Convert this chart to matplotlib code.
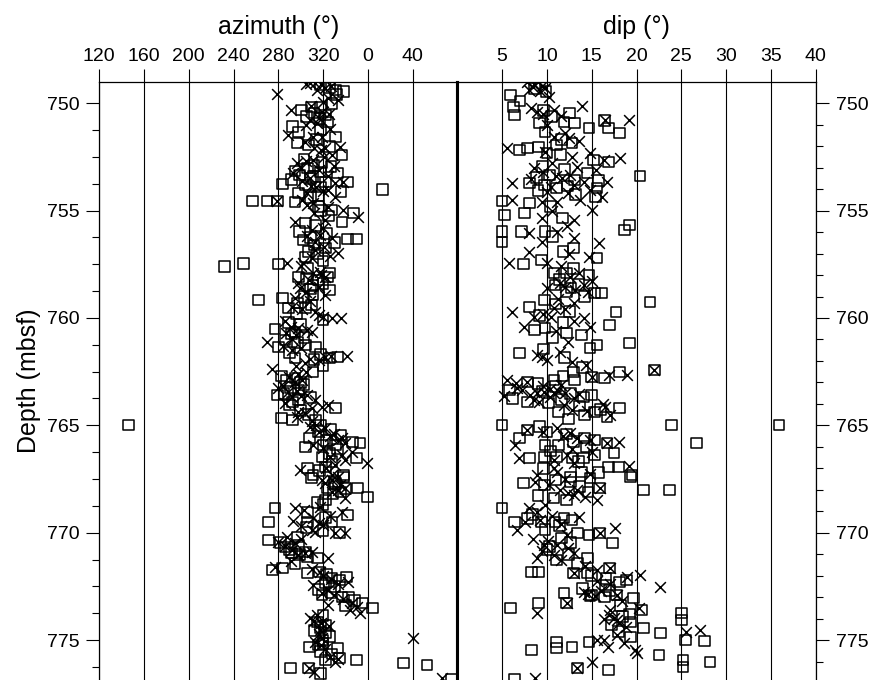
import numpy as np
import matplotlib
matplotlib.use("Agg")
import matplotlib.pyplot as plt
from matplotlib.ticker import MultipleLocator, FixedLocator

plt.rcParams['font.family'] = ['Liberation Sans', 'DejaVu Sans']

# ---------------- data ----------------
# azimuth panel, squares
az_sq_depth = [749.38, 749.47, 750.31, 750.17, 750.55, 750.87, 751.10, 751.34, 751.57, 751.85, 751.94, 752.41,
               753.01, 753.34, 753.81, 753.67, 753.67, 754.18, 754.60, 753.76, 754.00, 754.55, 754.55, 754.55,
               754.97, 755.11, 755.53, 755.58, 755.99, 756.37, 756.74, 756.32, 756.32, 757.16, 757.90, 758.09,
               757.49, 757.62, 757.48, 758.23, 758.09, 758.70, 758.93, 759.07, 759.16, 759.54, 759.54, 760.09,
               760.51, 760.65, 761.02, 761.35, 761.26, 761.35, 761.86, 761.86, 761.82, 762.52, 762.79, 763.59,
               763.35, 764.19, 763.91, 764.66, 764.75, 764.75, 765.59, 764.98, 766.01, 765.92, 765.78, 765.82,
               765.92, 766.47, 766.52, 766.99, 767.31, 766.94, 767.31, 767.45, 767.41, 767.92, 767.92, 768.34,
               768.48, 768.70, 768.85, 769.50, 769.50, 769.50, 769.18, 770.00, 770.34, 770.67, 770.95, 770.90,
               771.18, 771.74, 771.64, 771.88, 771.83, 772.34, 772.11, 772.90, 772.06, 772.99, 773.27, 773.51,
               774.16, 774.67, 775.32, 775.23, 775.84, 775.37, 775.93, 775.93, 776.30, 776.30, 776.07, 776.16,
               776.81,
               750.70, 752.90, 753.20, 753.50, 754.30, 755.00, 756.60, 757.00, 758.50, 759.30, 760.30, 761.60,
               762.90, 763.10, 763.70, 764.30, 765.30, 766.30, 767.60, 768.10, 769.90, 770.60, 771.00, 772.50,
               773.00, 774.40, 775.00,
               749.15, 749.25, 749.60, 750.00, 750.20, 750.45, 750.60, 751.25, 751.70, 752.00, 752.60, 752.75,
               752.95, 753.15, 753.25, 753.40, 753.55, 753.90, 754.10, 754.40, 754.80, 755.25, 755.70, 756.05,
               756.25, 756.50, 756.90, 757.35, 757.70, 758.15, 758.40, 758.65, 759.00, 759.40, 759.80, 760.20,
               760.75, 760.90, 761.15, 761.70, 761.95, 762.20, 762.70, 763.00, 763.25, 763.50, 763.80, 764.05,
               764.50, 765.00, 765.20, 765.45, 765.70, 766.10, 766.70, 767.10, 767.70, 767.95, 768.20, 768.60,
               769.05, 769.30, 769.75, 770.20, 770.45, 770.80, 771.10, 771.45, 771.95, 772.20, 772.65, 772.80,
               773.15, 773.40, 773.85, 774.30, 774.55, 774.85, 775.15, 775.55, 775.65, 776.55]
az_sq_value = [331, 338, 301, 310, 322, 324, 293, 298, 331, 297, 307, 337,
               306, 299, 304, 322, 342, 298, 295, 284, 13, 257, 270, 279,
               328, 347, 337, 304, 299, 302, 322, 342, 350, 304, 326, 298,
               280, 232, 249, 316, 324, 326, 311, 284, 262, 289, 304, 320,
               277, 295, 286, 280, 304, 313, 295, 326, 333, 311, 295, 279,
               298, 331, 293, 283, 293, 313, 308, 146, 304, 320, 346, 353,
               331, 319, 350, 306, 311, 322, 338, 310, 338, 324, 351, 0,
               322, 320, 277, 271, 306, 328, 342, 335, 271, 286, 292, 304,
               315, 275, 284, 306, 317, 322, 328, 319, 341, 337, 355, 4,
               315, 322, 308, 316, 335, 333, 322, 350, 291, 307, 32, 53,
               75,
               317, 312, 318, 309, 316, 318, 312, 315, 311, 297, 300, 290,
               287, 303, 309, 300, 316, 326, 330, 336, 320, 298, 299, 330,
               343, 318, 320,
               318, 326, 332, 328, 318, 312, 305, 318, 314, 326, 303, 319,
               327, 295, 333, 311, 292, 318, 336, 309, 316, 325, 313, 323,
               309, 330, 307, 320, 306, 305, 320, 309, 303, 310, 296, 289,
               292, 303, 297, 318, 312, 320, 283, 300, 291, 285, 298, 290,
               307, 318, 327, 336, 323, 333, 328, 317, 331, 340, 329, 315,
               306, 322, 305, 297, 282, 290, 306, 295, 323, 335, 316, 327,
               348, 340, 320, 322, 312, 326, 320, 318, 328, 318]

# azimuth panel, crosses
az_x_depth = [749.05, 749.05, 749.10, 749.29, 749.57, 749.75, 749.85, 750.31, 750.41, 750.68, 750.92, 751.48,
              751.57, 751.57, 752.08, 752.04, 752.41, 752.78, 752.64, 753.48, 753.71, 753.67, 754.04, 754.50,
              754.55, 754.64, 754.83, 754.97, 755.30, 755.53, 756.13, 756.27, 756.46, 756.97, 756.83, 757.44,
              757.90, 757.86, 757.44, 758.23, 758.93, 758.60, 759.07, 759.49, 759.72, 759.95, 760.00, 760.00,
              760.42, 760.56, 760.65, 761.12, 761.49, 762.10, 761.96, 761.82, 761.77, 762.38, 762.89, 763.26,
              763.45, 763.59, 763.82, 764.15, 764.05, 764.38, 764.43, 765.08, 765.31, 765.12, 765.92, 765.68,
              765.60, 766.47, 766.24, 766.75, 766.85, 767.08, 767.31, 767.55, 767.55, 768.01, 767.80, 768.80,
              768.85, 769.46, 769.32, 769.87, 769.64, 769.04, 770.00, 770.00, 770.43, 770.48, 771.04, 770.90,
              771.18, 771.60, 771.83, 772.44, 772.67, 772.30, 773.37, 773.27, 773.60, 773.74, 773.97, 774.53,
              774.90, 775.09, 774.90, 775.79, 776.30, 776.77,
              751.00, 752.20, 753.00, 753.90, 754.20, 755.80, 757.20, 758.00, 758.80, 760.80, 761.30, 762.60,
              763.00, 763.70, 764.80, 765.50, 766.60, 767.90, 769.70, 770.20, 770.80, 772.00, 772.90, 774.20,
              775.40, 776.00,
              749.12, 749.20, 749.40, 749.95, 750.15, 750.50, 750.80, 751.20, 751.80, 752.10, 752.50, 752.70,
              752.90, 753.10, 753.25, 753.40, 753.60, 753.85, 754.10, 754.35, 754.75, 755.10, 755.45, 755.90,
              756.20, 756.70, 757.10, 757.60, 758.10, 758.35, 758.55, 759.20, 759.60, 759.85, 760.15, 760.45,
              760.70, 761.00, 761.40, 761.75, 761.90, 762.25, 762.50, 762.75, 763.15, 763.40, 763.65, 763.95,
              764.20, 764.60, 765.00, 765.40, 765.80, 766.05, 766.40, 767.00, 767.40, 767.70, 768.10, 768.40,
              768.95, 769.20, 769.55, 769.95, 770.30, 770.60, 770.95, 771.30, 771.70, 772.15, 772.40, 772.80,
              773.10, 773.45, 773.85, 774.10, 774.35, 774.70, 775.25, 775.90, 776.50]
az_x_value = [308, 313, 318, 322, 279, 324, 333, 291, 319, 316, 315, 289,
              311, 319, 322, 335, 328, 297, 311, 308, 331, 338, 324, 301,
              279, 311, 324, 338, 351, 295, 317, 328, 313, 333, 313, 302,
              311, 317, 288, 307, 322, 299, 295, 292, 313, 320, 328, 336,
              291, 306, 310, 270, 292, 304, 316, 322, 341, 274, 301, 280,
              289, 306, 313, 319, 324, 298, 304, 308, 316, 322, 311, 333,
              337, 326, 346, 359, 331, 299, 328, 319, 328, 333, 335, 317,
              295, 293, 311, 310, 320, 337, 331, 340, 280, 295, 298, 310,
              324, 277, 317, 311, 324, 342, 324, 346, 344, 353, 308, 317,
              319, 313, 40, 326, 307, 66,
              305, 318, 300, 314, 306, 320, 310, 318, 305, 296, 284, 298,
              295, 292, 310, 326, 340, 340, 300, 288, 292, 320, 330, 318,
              322, 331,
              305, 327, 315, 320, 309, 325, 308, 326, 304, 312, 321, 305,
              330, 316, 293, 324, 301, 309, 320, 331, 306, 312, 322, 310,
              306, 321, 326, 300, 322, 298, 316, 308, 301, 316, 286, 298,
              287, 292, 300, 327, 308, 296, 305, 290, 284, 297, 300, 286,
              310, 297, 314, 330, 340, 320, 337, 323, 333, 322, 328, 340,
              303, 326, 316, 313, 300, 286, 304, 291, 310, 327, 333, 319,
              338, 350, 315, 312, 325, 316, 318, 333, 312]

# dip panel, squares
dip_sq_depth = [749.61, 750.17, 750.55, 750.45, 750.87, 750.92, 751.15, 750.82, 751.15, 751.38, 750.92, 751.34,
                751.94, 752.18, 752.08, 752.04, 752.32, 752.64, 752.74, 753.39, 753.71, 753.81, 753.95, 753.95,
                753.57, 753.34, 754.55, 754.64, 754.36, 755.20, 755.11, 755.34, 755.99, 756.46, 755.99, 755.99,
                756.74, 757.21, 755.90, 755.67, 757.49, 757.30, 757.90, 757.90, 758.00, 758.79, 758.84, 758.84,
                758.46, 759.26, 759.16, 759.49, 760.33, 759.72, 760.56, 760.47, 760.70, 760.79, 761.16, 761.63,
                761.40, 761.26, 762.42, 762.52, 762.75, 762.79, 762.52, 762.89, 762.89, 763.35, 762.98, 763.68,
                763.59, 763.91, 763.40, 763.96, 764.38, 764.52, 764.38, 764.61, 764.19, 764.98, 764.98, 764.98,
                765.22, 765.59, 765.31, 765.59, 765.68, 765.82, 765.92, 765.92, 766.52, 766.47, 766.47, 766.52,
                766.52, 766.38, 766.29, 766.94, 766.94, 767.31, 767.17, 767.41, 765.82, 767.69, 767.78, 767.64,
                767.45, 767.92, 767.41, 768.01, 768.01, 768.38, 768.48, 768.85, 769.50, 769.50, 769.50, 769.32,
                769.41, 770.01, 770.11, 770.48, 770.65, 771.18, 771.83, 771.83, 771.27, 770.01, 771.88, 771.88,
                772.44, 771.64, 772.30, 772.20, 772.81, 772.95, 772.90, 772.90, 773.04, 773.51, 773.27, 773.27,
                773.60, 773.79, 774.16, 774.44, 774.67, 774.86, 775.70, 775.09, 775.09, 775.37, 775.32, 775.46,
                776.30, 776.39, 776.81, 773.74, 774.07, 775.00, 775.04, 775.93, 776.25, 776.02,
                749.30, 749.45, 749.90, 750.35, 750.60, 751.70, 751.85, 752.40, 752.95, 753.10, 753.25, 753.45,
                753.60, 753.85, 754.05, 754.25, 754.80, 756.20, 756.90, 757.70, 758.20, 758.45, 758.60, 759.00,
                759.35, 759.70, 759.90, 760.20, 760.90, 761.45, 761.85, 762.30, 762.70, 763.05, 763.20, 763.50,
                763.75, 763.80, 764.10, 764.25, 764.70, 765.05, 765.40, 765.75, 766.00, 766.20, 766.70, 767.00,
                767.20, 767.55, 767.85, 768.10, 768.25, 769.15, 769.35, 769.65, 769.85, 770.25, 770.45, 770.80,
                771.00, 771.45, 772.00, 772.15, 772.60, 772.70, 773.00, 773.40, 773.90, 774.30, 774.60]
dip_sq_value = [5.9, 6.3, 6.4, 12.5, 11.9, 13.1, 14.7, 16.4, 16.9, 18.1, 9.2, 9.8,
                11.1, 6.9, 7.8, 9.1, 10.0, 15.2, 16.9, 20.4, 8.1, 9.7, 11.1, 15.6,
                13.1, 10.3, 5.0, 8.1, 15.4, 5.3, 7.5, 11.7, 5.0, 5.0, 7.2, 9.8,
                13.0, 15.6, 18.7, 19.2, 7.4, 9.4, 10.8, 12.2, 14.7, 12.2, 15.3, 16.1,
                10.9, 21.5, 9.7, 8.1, 17.0, 17.7, 8.6, 9.8, 12.2, 13.9, 19.2, 6.9,
                14.8, 15.6, 22.0, 13.0, 15.0, 16.4, 18.1, 10.8, 13.1, 5.8, 7.8, 14.1,
                15.0, 7.8, 9.5, 10.2, 11.3, 14.2, 15.3, 16.7, 18.1, 5.0, 23.9, 35.9,
                7.8, 6.9, 10.0, 14.2, 15.3, 16.7, 11.3, 9.8, 8.1, 9.7, 11.1, 12.8,
                14.1, 15.3, 17.5, 16.9, 18.0, 19.5, 13.9, 12.6, 26.7, 7.4, 9.7, 12.6,
                14.8, 15.9, 19.3, 20.8, 23.7, 10.8, 12.2, 5.0, 6.4, 9.4, 10.9, 11.9,
                12.8, 15.9, 14.7, 17.3, 10.3, 14.5, 9.1, 8.3, 11.1, 13.4, 13.0, 14.5,
                16.5, 17.0, 18.1, 18.9, 11.9, 14.8, 15.0, 17.8, 19.7, 5.9, 9.1, 12.2,
                20.6, 19.2, 19.3, 20.8, 22.7, 19.3, 22.5, 14.7, 11.1, 11.1, 12.8, 8.3,
                13.4, 16.9, 6.4, 25.0, 25.0, 25.5, 27.6, 25.2, 25.2, 28.2,
                8.6, 9.9, 7.0, 9.6, 10.5, 11.6, 12.8, 11.5, 9.5, 12.0, 14.5, 8.8,
                15.8, 12.3, 9.0, 13.2, 10.4, 10.6, 11.8, 13.0, 11.4, 13.5, 12.7, 14.2,
                11.0, 12.5, 9.2, 11.8, 10.6, 9.6, 12.0, 14.0, 11.8, 9.0, 11.0, 12.6,
                6.2, 11.6, 13.6, 16.0, 12.4, 9.2, 12.2, 13.0, 14.4, 10.4, 13.5, 9.6,
                15.8, 11.0, 13.6, 14.6, 9.0, 8.4, 7.8, 11.4, 9.8, 11.6, 12.6, 10.0,
                12.4, 13.4, 15.0, 16.6, 14.0, 17.0, 16.4, 18.2, 18.4, 17.2, 18.0]

# dip panel, crosses
dip_x_depth = [749.01, 749.38, 749.29, 749.20, 750.41, 750.31, 750.13, 750.78, 750.78, 751.57, 751.62, 752.08,
               752.50, 752.32, 752.64, 752.55, 753.01, 753.71, 753.34, 753.67, 753.67, 753.48, 754.04, 754.13,
               754.50, 754.60, 754.60, 754.50, 754.97, 755.34, 755.43, 756.04, 755.99, 756.27, 756.51, 757.16,
               757.44, 756.93, 757.44, 757.90, 758.60, 758.46, 758.37, 758.70, 759.72, 759.95, 760.42, 759.54,
               759.95, 760.00, 760.42, 761.72, 761.96, 761.58, 762.05, 762.42, 762.75, 762.65, 762.65, 763.26,
               762.98, 763.49, 763.45, 763.49, 763.49, 763.73, 763.91, 763.35, 763.59, 763.70, 763.10, 764.29,
               764.15, 764.02, 765.22, 765.92, 765.12, 765.36, 765.59, 765.82, 765.78, 766.52, 766.38, 766.89,
               766.99, 767.17, 767.27, 767.31, 767.64, 768.01, 768.01, 767.92, 768.24, 768.48, 768.85, 769.04,
               768.71, 769.50, 769.87, 769.27, 769.78, 770.01, 770.57, 770.40, 770.57, 770.95, 771.04, 771.18,
               770.11, 771.88, 772.25, 771.64, 772.06, 771.97, 772.53, 772.76, 772.85, 772.90, 773.74, 773.27,
               773.51, 773.83, 774.07, 773.95, 774.20, 774.76, 775.14, 775.60, 775.45, 775.00, 775.00, 776.02,
               776.30, 776.77, 774.63, 774.53,
               749.10, 749.25, 749.45, 749.70, 750.20, 750.50, 750.60, 751.00, 751.40, 751.75, 752.25, 752.80,
               752.95, 753.10, 753.20, 753.40, 753.55, 753.80, 753.90, 754.20, 754.35, 755.00, 755.70, 756.45,
               757.00, 757.60, 758.10, 758.30, 758.55, 758.80, 759.10, 759.30, 759.60, 759.80, 760.15, 760.60,
               761.10, 761.80, 762.20, 762.90, 763.05, 763.15, 763.30, 763.40, 763.55, 763.65, 763.80, 764.05,
               764.35, 764.50, 765.30, 765.50, 765.70, 766.10, 766.25, 766.60, 766.75, 767.50, 767.80, 768.15,
               768.35, 769.20, 769.40, 769.60, 770.30, 770.70, 770.85, 771.25, 771.55, 771.75, 772.40, 772.70,
               772.95, 773.20, 773.60, 774.00, 774.40, 775.30]
dip_x_value = [7.8, 8.0, 9.8, 9.5, 8.9, 10.8, 13.9, 16.5, 19.2, 10.8, 12.5, 5.5,
               12.8, 14.8, 16.4, 18.2, 8.6, 6.1, 12.6, 14.1, 16.7, 11.7, 14.8, 10.0,
               6.1, 9.4, 11.1, 13.7, 15.0, 9.4, 13.0, 8.0, 11.1, 13.0, 15.8, 14.7,
               5.8, 8.0, 10.0, 13.6, 10.0, 14.1, 11.5, 13.1, 6.1, 8.6, 7.4, 10.8,
               10.5, 14.1, 14.8, 8.9, 10.0, 11.5, 12.8, 22.0, 15.0, 16.9, 18.9, 6.7,
               7.8, 8.9, 9.7, 10.8, 12.0, 13.0, 9.1, 7.2, 8.1, 10.3, 11.6, 12.8,
               16.5, 16.3, 7.8, 6.4, 11.1, 12.6, 13.4, 16.7, 18.0, 6.9, 12.2, 19.2,
               10.8, 11.1, 14.8, 8.9, 8.7, 11.5, 13.4, 15.9, 13.0, 15.6, 8.0, 8.9,
               9.8, 7.5, 6.7, 13.6, 17.6, 15.9, 9.7, 10.1, 11.1, 13.0, 10.8, 8.9,
               12.2, 13.0, 15.6, 17.0, 18.9, 20.4, 22.6, 14.1, 14.6, 17.8, 8.9, 12.2,
               20.3, 16.9, 17.8, 17.5, 18.1, 17.8, 18.6, 20.0, 19.8, 15.6, 16.4, 15.0,
               13.4, 8.7, 25.5, 27.1,
               8.6, 8.4, 9.2, 10.2, 8.2, 9.6, 11.6, 10.0, 12.0, 13.6, 9.8, 10.6,
               13.4, 15.5, 9.6, 11.0, 8.2, 13.0, 10.5, 12.4, 16.2, 10.6, 12.2, 9.5,
               12.5, 11.6, 12.6, 15.0, 12.0, 14.6, 11.2, 13.0, 12.0, 9.6, 13.0, 11.0,
               12.3, 9.4, 14.4, 5.6, 6.6, 9.6, 10.4, 11.2, 13.6, 5.2, 8.6, 11.9,
               14.5, 17.0, 9.6, 11.8, 14.8, 12.8, 15.0, 10.8, 13.0, 12.0, 10.2, 12.4,
               14.2, 10.6, 9.2, 11.6, 8.4, 12.3, 9.5, 11.6, 14.2, 15.6, 17.0, 16.0,
               15.4, 18.4, 17.0, 16.4, 18.8, 16.8]

az_ticks = [120, 160, 200, 240, 280, 320, 360, 400]
az_ticklabels = ['120', '160', '200', '240', '280', '320', '0', '40']
dip_ticks = [5, 10, 15, 20, 25, 30, 35, 40]
dip_ticklabels = ['5', '10', '15', '20', '25', '30', '35', '40']
depth_ticks = [750, 755, 760, 765, 770, 775]


def unwrap(a):
    a = np.asarray(a, dtype=float)
    return np.where(a < 120, a + 360, a)


# ---------------- figure ----------------
W, H = 869, 680
fig = plt.figure(figsize=(W / 100, H / 100), dpi=100)

top_px = 82
xl0, xl1 = 99.3, 457.3
xr1 = 815.7
ax1 = fig.add_axes([xl0 / W, 0, (xl1 - xl0) / W, (H - top_px) / H])
ax2 = fig.add_axes([xl1 / W, 0, (xr1 - xl1) / W, (H - top_px) / H])

ylim = (776.86, 749.01)
msize = 60
mlw = 1.1

for ax in (ax1, ax2):
    ax.set_ylim(*ylim)
    ax.xaxis.tick_top()
    ax.xaxis.set_label_position('top')
    ax.spines['bottom'].set_visible(False)
    ax.grid(axis='x', color='black', linewidth=0.8, zorder=0)
    ax.set_axisbelow(True)
    for s in ax.spines.values():
        s.set_linewidth(0.9)
    ax.tick_params(axis='x', which='both', direction='out', length=9.5, width=0.8,
                   labelsize=14, pad=3, bottom=False, top=True)
    ax.yaxis.set_major_locator(FixedLocator(depth_ticks))

# azimuth panel
ax1.scatter(unwrap(az_sq_value), az_sq_depth, marker='s', s=msize, facecolors='none',
            edgecolors='black', linewidths=mlw, zorder=3)
ax1.scatter(unwrap(az_x_value), az_x_depth, marker='x', s=msize, color='black',
            linewidths=mlw, zorder=3)
ax1.set_xlim(120, 440)
ax1.set_xticks(az_ticks)
ax1.set_xticklabels(az_ticklabels)
ax1.set_xlabel('azimuth (°)', fontsize=18, labelpad=10)
ax1.yaxis.set_minor_locator(MultipleLocator(1.25))
ax1.tick_params(axis='y', which='major', direction='out', length=9.5, width=0.8,
                labelsize=14, pad=5, left=True, right=False)
ax1.tick_params(axis='y', which='minor', direction='out', length=5, width=0.8,
                left=True, right=False)
ax1.spines['right'].set_linewidth(2.2)
ax1.set_ylabel('Depth (mbsf)', fontsize=18, labelpad=4)

# dip panel
ax2.scatter(dip_sq_value, dip_sq_depth, marker='s', s=msize, facecolors='none',
            edgecolors='black', linewidths=mlw, zorder=3)
ax2.scatter(dip_x_value, dip_x_depth, marker='x', s=msize, color='black',
            linewidths=mlw, zorder=3)
ax2.set_xlim(0, 40)
ax2.set_xticks(dip_ticks)
ax2.set_xticklabels(dip_ticklabels)
ax2.set_xlabel('dip (°)', fontsize=18, labelpad=10)
ax2.yaxis.tick_right()
ax2.yaxis.set_minor_locator(MultipleLocator(1))
ax2.tick_params(axis='y', which='major', direction='out', length=9.5, width=0.8,
                labelsize=14, pad=5, left=False, right=True, labelleft=False, labelright=True)
ax2.tick_params(axis='y', which='minor', direction='out', length=5, width=0.8,
                left=False, right=True)
ax2.spines['left'].set_linewidth(2.2)

fig.savefig('out.png', dpi=100)
